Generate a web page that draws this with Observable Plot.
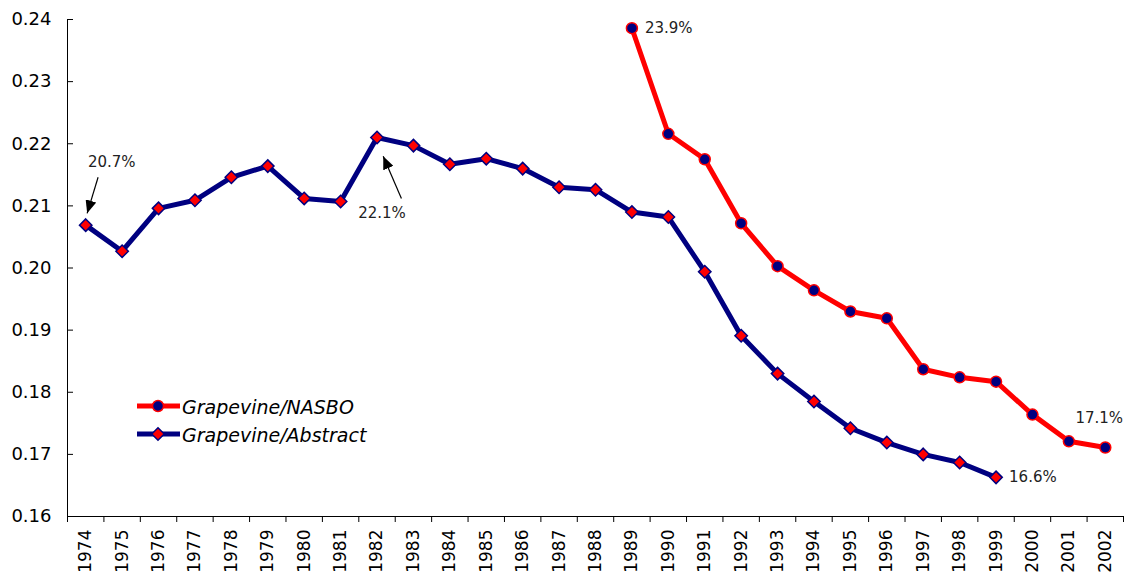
<!DOCTYPE html>
<html>
<head>
<meta charset="utf-8">
<script src="https://cdn.jsdelivr.net/npm/d3@7"></script>
<script src="https://cdn.jsdelivr.net/npm/@observablehq/plot@0.6"></script>
<style>
  html, body { margin: 0; padding: 0; background: #fff; }
  #wrap { position: relative; width: 1128px; height: 579px; }
  #legend { position: absolute; left: 0; top: 0; pointer-events: none; }
  svg text { font-family: "DejaVu Sans", sans-serif; }
</style>
</head>
<body>
<div id="wrap"></div>
<script>
// ---- data ----
const years = [1974,1975,1976,1977,1978,1979,1980,1981,1982,1983,1984,1985,1986,1987,1988,1989,1990,1991,1992,1993,1994,1995,1996,1997,1998,1999,2000,2001,2002];
const abstractYears = [1974,1975,1976,1977,1978,1979,1980,1981,1982,1983,1984,1985,1986,1987,1988,1989,1990,1991,1992,1993,1994,1995,1996,1997,1998,1999];
const abstractValues = [0.2069,0.2027,0.2096,0.2109,0.2146,0.2164,0.2112,0.2107,0.2210,0.2197,0.2167,0.2176,0.2160,0.2130,0.2126,0.2090,0.2082,0.1994,0.1891,0.1830,0.1785,0.1742,0.1719,0.1700,0.1687,0.1663];
const nasboYears = [1989,1990,1991,1992,1993,1994,1995,1996,1997,1998,1999,2000,2001,2002];
const nasboValues = [0.2386,0.2216,0.2175,0.2072,0.2003,0.1964,0.1930,0.1919,0.1837,0.1824,0.1817,0.1764,0.1721,0.1711];
const yTicks = [0.16,0.17,0.18,0.19,0.20,0.21,0.22,0.23,0.24];
const seriesNames = ["Grapevine/NASBO", "Grapevine/Abstract"];

// annotations: labels near points
const labelYears = [1974, 1982, 1989, 1999, 2002];
const labelValues = [0.2069, 0.2210, 0.2386, 0.1663, 0.1711];
const labelTexts = ["20.7%", "22.1%", "23.9%", "16.6%", "17.1%"];
// arrows (tail -> head) in data units
const arrowX1 = [1974.34, 1982.67];
const arrowY1 = [0.2146, 0.2112];
const arrowX2 = [1974.04, 1982.17];
const arrowY2 = [0.2088, 0.2180];

// ---- tables ----
const abstractData = abstractYears.map((y, i) => ({year: y, value: abstractValues[i]}));
const nasboData = nasboYears.map((y, i) => ({year: y, value: nasboValues[i]}));
const labelData = labelYears.map((y, i) => ({year: y, value: labelValues[i], text: labelTexts[i]}));
const arrowData = arrowX1.map((x, i) => ({x1: x, y1: arrowY1[i], x2: arrowX2[i], y2: arrowY2[i]}));
const xDomain = [years[0] - 0.5, years[years.length - 1] + 0.5];
const yDomain = [yTicks[0], yTicks[yTicks.length - 1]];
const bounds = years.map(y => y - 0.5).concat([years[years.length - 1] + 0.5]);

const navy = "#000080", red = "#ff0000";

const chart = Plot.plot({
  width: 1128,
  height: 579,
  marginLeft: 67,
  marginRight: 5,
  marginTop: 19,
  marginBottom: 63,
  style: {fontFamily: "DejaVu Sans, sans-serif", color: "#000", background: "#fff", overflow: "visible"},
  x: {type: "linear", domain: xDomain},
  y: {domain: yDomain},
  marks: [
    // y-axis labels
    Plot.axisY(yTicks, {tickSize: 0, tickPadding: 16, tickFormat: d3.format(".2f"), fontSize: 18, label: null}),
    // y-axis inward ticks
    Plot.axisY(yTicks, {tickSize: 6, insetLeft: 6, tickFormat: () => "", label: null}),
    // x-axis boundary ticks
    Plot.axisX(bounds, {tickSize: 6, tickFormat: () => "", label: null}),
    // x-axis year labels
    Plot.axisX(years, {tickSize: 0, tickPadding: 13, tickRotate: -90, tickFormat: d => String(d), fontSize: 17, label: null}),
    Plot.ruleX([xDomain[0]], {stroke: "#000"}),
    Plot.ruleY([yDomain[0]], {stroke: "#000"}),
    // Abstract series
    Plot.line(abstractData, {x: "year", y: "value", stroke: navy, strokeWidth: 5, strokeLinejoin: "round"}),
    Plot.dot(abstractData, {x: "year", y: "value", symbol: "diamond2", r: 5.6, fill: red, stroke: navy, strokeWidth: 1.5}),
    // NASBO series
    Plot.line(nasboData, {x: "year", y: "value", stroke: red, strokeWidth: 5, strokeLinejoin: "round"}),
    Plot.dot(nasboData, {x: "year", y: "value", r: 5.5, fill: navy, stroke: red, strokeWidth: 1.5}),
    // annotations
    Plot.link(arrowData, {x1: "x1", y1: "y1", x2: "x2", y2: "y2", stroke: "#000", strokeWidth: 1.2, className: "annarrow"}),
    Plot.text(labelData.filter(d => d.text === "20.7%"), {x: "year", y: "value", text: "text", dx: 26, dy: -63, fontSize: 15, fill: "#222"}),
    Plot.text(labelData.filter(d => d.text === "22.1%"), {x: "year", y: "value", text: "text", dx: 5, dy: 76, fontSize: 15, fill: "#222"}),
    Plot.text(labelData.filter(d => d.text === "23.9%" || d.text === "16.6%"), {x: "year", y: "value", text: "text", dx: 13, dy: 0, textAnchor: "start", fontSize: 15, fill: "#222"}),
    Plot.text(labelData.filter(d => d.text === "17.1%"), {x: "year", y: "value", text: "text", dx: -6, dy: -29, fontSize: 15, fill: "#222"})
  ]
});

// filled arrowheads
const ns = "http://www.w3.org/2000/svg";
const defs = document.createElementNS(ns, "defs");
const marker = document.createElementNS(ns, "marker");
marker.setAttribute("id", "ahead");
marker.setAttribute("viewBox", "0 0 13 11");
marker.setAttribute("refX", "13");
marker.setAttribute("refY", "5.5");
marker.setAttribute("markerWidth", "13");
marker.setAttribute("markerHeight", "11");
marker.setAttribute("markerUnits", "userSpaceOnUse");
marker.setAttribute("orient", "auto");
const mp = document.createElementNS(ns, "path");
mp.setAttribute("d", "M0,0L13,5.5L0,11Z");
mp.setAttribute("fill", "#000");
marker.appendChild(mp);
defs.appendChild(marker);
chart.insertBefore(defs, chart.firstChild);
chart.querySelectorAll(".annarrow path, path.annarrow").forEach(p => p.setAttribute("marker-end", "url(#ahead)"));

const wrap = document.getElementById("wrap");
wrap.appendChild(chart);

// legend overlay
const leg = d3.select(wrap).append("svg").attr("id", "legend").attr("width", 1128).attr("height", 579);
const rows = [
  {name: seriesNames[0], line: red, fill: navy, stroke: red, sym: d3.symbolCircle, y: 406},
  {name: seriesNames[1], line: navy, fill: red, stroke: navy, sym: d3.symbolDiamond2, y: 434}
];
rows.forEach(r => {
  const g = leg.append("g");
  g.append("line").attr("x1", 137).attr("x2", 180).attr("y1", r.y).attr("y2", r.y).attr("stroke", r.line).attr("stroke-width", 5);
  g.append("path").attr("transform", `translate(158,${r.y})`).attr("d", d3.symbol(r.sym, r.sym === d3.symbolCircle ? Math.PI * 5.5 * 5.5 : Math.PI * 5.6 * 5.6)()).attr("fill", r.fill).attr("stroke", r.stroke).attr("stroke-width", 1.5);
  g.append("text").attr("x", 182).attr("y", r.y + 8).attr("font-size", 19).attr("font-style", "italic").attr("fill", "#000").text(r.name);
});
</script>
</body>
</html>
